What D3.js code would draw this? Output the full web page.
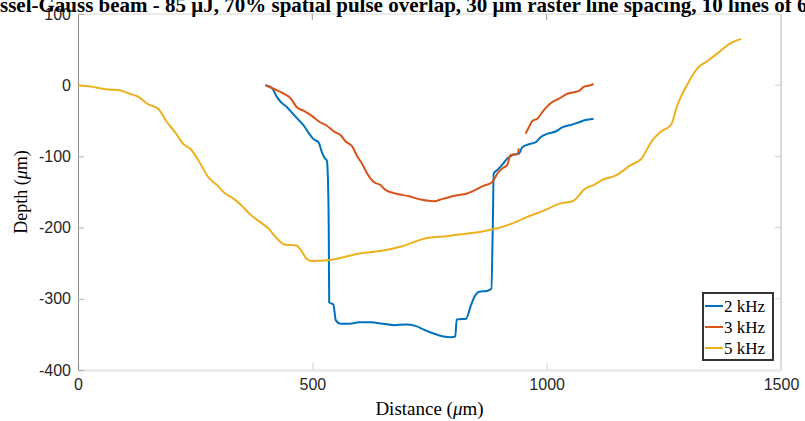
<!DOCTYPE html>
<html>
<head>
<meta charset="utf-8">
<script src="https://cdn.jsdelivr.net/npm/d3@7"></script>
<style>
  html, body { margin: 0; padding: 0; background: #fff; overflow: hidden; }
  svg { display: block; }
</style>
</head>
<body>
<svg id="chart" width="805" height="421"></svg>
<script>
// Profile depth vs. distance for three repetition rates
const seriesNames = ["2 kHz", "3 kHz", "5 kHz"];
const seriesColors = ["#0072BD", "#D95319", "#EDB120"];

const xTicks = [0, 500, 1000, 1500];
const yTicks = [100, 0, -100, -200, -300, -400];

// 2 kHz: [distance µm, depth µm]
const data2k = [
  [400, 0], [414, -4], [424, -16], [435, -25], [446, -31], [457, -39], [471, -49],
  [481, -56], [492, -67], [503, -76], [513, -80], [521, -95], [526, -102], [531, -106],
  [533, -126], [535, -200], [536, -305], [545, -308], [550, -330], [560, -335],
  [580, -335], [600, -333], [625, -333], [650, -335], [675, -337], [700, -336],
  [720, -338], [740, -344], [760, -349], [780, -353], [795, -354], [805, -353],
  [808, -329], [828, -328], [838, -310], [846, -297], [856, -290], [872, -289],
  [882, -286], [885, -200], [887, -124], [895, -119], [905, -112], [916, -103],
  [927, -98], [941, -96], [948, -87], [962, -83], [977, -80], [987, -73],
  [1002, -68], [1019, -65], [1034, -59], [1051, -56], [1069, -52], [1083, -49],
  [1100, -47]
];

// 3 kHz: null marks the break in the trace
const data3k = [
  [400, 0], [421, -6], [442, -13], [453, -18], [467, -31], [482, -36], [499, -43],
  [514, -51], [531, -57], [546, -65], [560, -70], [571, -79], [585, -86], [596, -100],
  [606, -110], [617, -124], [631, -136], [645, -140], [656, -147], [677, -152],
  [706, -156], [734, -161], [759, -163], [777, -160], [806, -155], [830, -152],
  [845, -148], [866, -141], [882, -137], [887, -133], [895, -124], [905, -117],
  [916, -112], [923, -98], [937, -97], [941, -89],
  null,
  [955, -68], [962, -59], [970, -50], [980, -47], [994, -35], [1009, -25],
  [1026, -19], [1044, -12], [1069, -8], [1080, -2], [1094, 0], [1100, 2]
];

// 5 kHz
const data5k = [
  [0, 0], [28, -2], [64, -6], [89, -7], [110, -12], [128, -16], [150, -27],
  [171, -33], [189, -51], [207, -66], [224, -82], [242, -91], [260, -109],
  [278, -129], [296, -140], [314, -152], [331, -159], [349, -169], [370, -183],
  [388, -192], [406, -201], [424, -215], [442, -224], [466, -225], [476, -232],
  [488, -244], [499, -247], [534, -246], [603, -236], [645, -233], [688, -227],
  [742, -215], [788, -212], [823, -209], [866, -205], [895, -201], [923, -195],
  [966, -183], [987, -178], [1030, -166], [1055, -163], [1083, -145], [1101, -140],
  [1119, -133], [1147, -127], [1180, -112], [1201, -104], [1226, -77], [1244, -65],
  [1265, -56], [1279, -28], [1301, 2], [1322, 24], [1343, 34], [1365, 45],
  [1390, 58], [1415, 65]
];

const seriesData = [data2k, data3k, data5k];

const titleText = "Bessel-Gauss beam - 85 μJ, 70% spatial pulse overlap, 30 μm raster line spacing, 10 lines of 6";

const svg = d3.select("#chart");
const plot = { left: 78, right: 781, top: 14, bottom: 370 };

const x = d3.scaleLinear().domain([0, 1500]).range([plot.left, plot.right]);
const y = d3.scaleLinear().domain([-400, 100]).range([plot.bottom, plot.top]);

const tickFont = "'Liberation Sans', Arial, sans-serif";
const serifFont = "'Liberation Serif', 'Times New Roman', serif";
const plainNumber = d => String(d);

// Axes box
svg.append("line").attr("x1", plot.left).attr("x2", plot.right).attr("y1", plot.top).attr("y2", plot.top)
  .attr("stroke", "#d6d6d6").attr("stroke-width", 1);
svg.append("line").attr("x1", plot.right).attr("x2", plot.right).attr("y1", plot.top).attr("y2", plot.bottom)
  .attr("stroke", "#d9d9d9").attr("stroke-width", 2);

// Bottom axis
const gx = svg.append("g").attr("transform", `translate(0,${plot.bottom})`)
  .call(d3.axisBottom(x).tickValues(xTicks).tickFormat(plainNumber).tickSizeInner(-7).tickSizeOuter(0).tickPadding(9));
gx.select(".domain").attr("stroke", "#ebebeb").attr("stroke-width", 3);
gx.selectAll(".tick line").attr("stroke", "#e2e2e2").attr("stroke-width", 1.5);
gx.selectAll(".tick text").attr("font-family", tickFont).attr("font-size", 16).attr("fill", "#262626");

// Left axis
const gy = svg.append("g").attr("transform", `translate(${plot.left},0)`)
  .call(d3.axisLeft(y).tickValues(yTicks).tickFormat(plainNumber).tickSizeInner(-6).tickSizeOuter(0).tickPadding(7));
gy.select(".domain").attr("stroke", "#8c8c8c").attr("stroke-width", 1);
gy.selectAll(".tick line").attr("stroke", "#b0b0b0");
gy.selectAll(".tick text").attr("font-family", tickFont).attr("font-size", 16).attr("fill", "#262626");

// Mirror ticks on top and right edges
svg.append("g").selectAll("line").data(xTicks.slice(1, -1)).join("line")
  .attr("x1", d => x(d)).attr("x2", d => x(d)).attr("y1", plot.top).attr("y2", plot.top + 6)
  .attr("stroke", "#9a9a9a");
svg.append("g").selectAll("line").data(yTicks.slice(1, -1)).join("line")
  .attr("x1", plot.right - 6).attr("x2", plot.right).attr("y1", d => y(d)).attr("y2", d => y(d))
  .attr("stroke", "#cfcfcf");

// Data lines
const line = d3.line()
  .defined(d => d !== null)
  .x(d => x(d[0]))
  .y(d => y(d[1]))
  .curve(d3.curveMonotoneX);

svg.append("g").selectAll("path").data(seriesData).join("path")
  .attr("d", line)
  .attr("fill", "none")
  .attr("stroke", (d, i) => seriesColors[i])
  .attr("stroke-width", 2)
  .attr("stroke-linejoin", "round");

// Axis labels
const xl = svg.append("text").attr("x", (plot.left + plot.right) / 2).attr("y", 415)
  .attr("text-anchor", "middle").attr("font-family", serifFont).attr("font-size", 19).attr("fill", "#000");
xl.append("tspan").text("Distance (");
xl.append("tspan").attr("font-style", "italic").text("μ");
xl.append("tspan").text("m)");

const yl = svg.append("text")
  .attr("transform", `translate(27,${(plot.top + plot.bottom) / 2}) rotate(-90)`)
  .attr("text-anchor", "middle").attr("font-family", serifFont).attr("font-size", 18).attr("fill", "#000");
yl.append("tspan").text("Depth (");
yl.append("tspan").attr("font-style", "italic").text("μ");
yl.append("tspan").text("m)");

// Title (wider than the page, runs off both edges)
const title = svg.append("text").attr("y", 12)
  .attr("font-family", serifFont).attr("font-size", 21).attr("font-weight", "bold").attr("fill", "#000")
  .text(titleText);
const leadW = title.node().getSubStringLength(0, 2);
title.attr("x", -leadW);

// Legend
const legend = svg.append("g").attr("transform", "translate(703,293)");
legend.append("rect").attr("width", 70).attr("height", 67)
  .attr("fill", "#fff").attr("stroke", "#333").attr("stroke-width", 2);
const items = legend.selectAll("g.item").data(seriesNames).join("g")
  .attr("class", "item")
  .attr("transform", (d, i) => `translate(0,${13 + i * 21})`);
items.append("line").attr("x1", 2).attr("x2", 20).attr("y1", 0).attr("y2", 0)
  .attr("stroke", (d, i) => seriesColors[i]).attr("stroke-width", 2);
items.append("text").attr("x", 21).attr("y", 5.5)
  .attr("font-family", serifFont).attr("font-size", 17).attr("fill", "#000")
  .text(d => d);
</script>
</body>
</html>
